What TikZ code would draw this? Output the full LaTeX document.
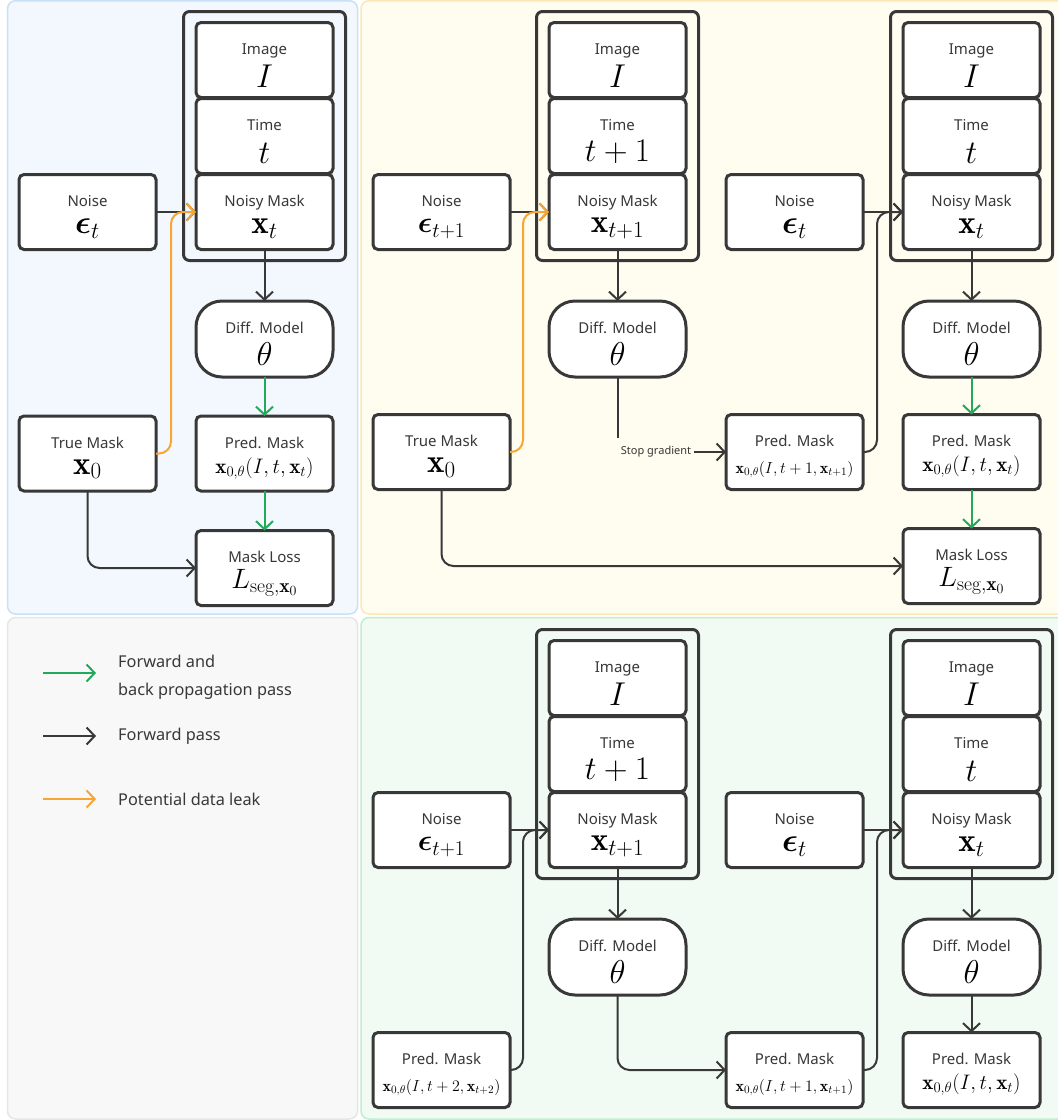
\RequirePackage{fix-cm}
\documentclass[tikz,border=0pt]{standalone}
\usepackage{amsmath}
\usepackage{fontspec}
\newfontfamily\labfont{Noto Sans}
\usetikzlibrary{arrows.meta}
\definecolor{ink}{HTML}{383838}
\definecolor{gr}{HTML}{22AA5B}
\definecolor{org}{HTML}{F8A532}
\definecolor{bluef}{HTML}{F3F8FE}
\definecolor{blueb}{HTML}{C8E1F7}
\definecolor{yelf}{HTML}{FFFCF0}
\definecolor{yelb}{HTML}{FBE8B6}
\definecolor{grayf}{HTML}{F8F8F8}
\definecolor{grayb}{HTML}{E6E6E6}
\definecolor{grnf}{HTML}{F1FBF4}
\definecolor{grnb}{HTML}{C0EFD0}
\newcommand\szbig{\fontsize{33}{36}\selectfont}
\newcommand\szeps{\fontsize{30}{33}\selectfont}
\newcommand\szmid{\fontsize{21}{24}\selectfont}
\newcommand\szsml{\fontsize{16}{18}\selectfont}
\newcommand\szloss{\fontsize{28}{32}\selectfont}
\newcommand\blk[6]{\node[#1,label={[lab,anchor=base,yshift=-32pt]north:{#4}},label={[anchor=base,inner sep=0pt,yshift=-#5pt]north:{#6}}] (#2) at (#3) {};}
\tikzset{
  panel/.style={line width=1.5pt, rounded corners=8pt},
  box/.style={draw=ink, line width=3pt, fill=white, rounded corners=5pt, minimum width=137pt, minimum height=75pt, inner sep=0pt, outer sep=0pt},
  dmbox/.style={box, rounded corners=26pt, minimum height=76pt},
  grp/.style={draw=ink, line width=3pt, rounded corners=6pt, minimum width=162pt, minimum height=249pt, inner sep=0pt, outer sep=0pt},
  ln/.style={draw=ink, line width=2pt, rounded corners=12pt},
  arr/.style={ln, -{Straight Barb[length=8pt,width=17pt]}},
  garr/.style={arr, draw=gr},
  oarr/.style={arr, draw=org},
  lab/.style={font=\labfont\fontsize{15}{18}\selectfont, text=ink, inner sep=0pt},
  legtxt/.style={font=\labfont\fontsize{16.3}{28}\selectfont, text=ink, inner sep=0pt, align=left, anchor=west},
}
\begin{document}
\begin{tikzpicture}[x=1pt,y=-1pt]
\useasboundingbox (0,0) rectangle (1058,1120);
\clip (0,0) rectangle (1058,1120);
% panels
\draw[panel, fill=bluef, draw=blueb] (7.5,0.75) rectangle (357.5,614);
\draw[panel, fill=yelf, draw=yelb] (361,0.75) rectangle (1070,614);
\draw[panel, fill=grayf, draw=grayb] (7.5,617.5) rectangle (357.5,1119);
\draw[panel, fill=grnf, draw=grnb] (361,617.5) rectangle (1070,1119);

% ---------- Panel 1 ----------
\node[grp] (g1) at (264.5,136) {};
\blk{box}{img1}{264.5,60}{Image}{65}{\szbig$I$}
\blk{box}{tim1}{264.5,136}{Time}{65}{\szbig$t$}
\blk{box}{nm1}{264.5,212}{Noisy Mask}{59}{\szbig$\mathbf{x}_t$}
\blk{box}{nz1}{87.5,212}{Noise}{59}{\szbig$\boldsymbol{\epsilon}_t$}
\blk{dmbox}{dm1}{264.5,339}{Diff. Model}{64}{\szbig$\theta$}
\blk{box}{tm1}{87.5,453.5}{True Mask}{58}{\szbig$\mathbf{x}_0$}
\blk{box}{pm1}{264.5,453.5}{Pred. Mask}{57}{\szmid$\mathbf{x}_{0,\theta}(I,t,\mathbf{x}_t)$}
\blk{box}{ml1}{264.5,568}{Mask Loss}{58}{\szloss$L_{\mathrm{seg},\mathbf{x}_0}$}

\draw[arr] (nz1.east) -- (nm1.west);
\draw[oarr] (tm1.east) -| ([xshift=-25pt]nm1.west) -- (nm1.west);
\draw[arr] (nm1.south) -- (dm1.north);
\draw[garr] (dm1.south) -- (pm1.north);
\draw[garr] (pm1.south) -- (ml1.north);
\draw[arr] (tm1.south) |- (ml1.west);

% ---------- Panel 2 ----------
\node[grp] (g2a) at (617.5,136) {};
\blk{box}{img2a}{617.5,60}{Image}{65}{\szbig$I$}
\blk{box}{tim2a}{617.5,136}{Time}{63}{\szbig$t+1$}
\blk{box}{nm2a}{617.5,212}{Noisy Mask}{58}{\szbig$\mathbf{x}_{t+1}$}
\blk{box}{nz2a}{441.5,212}{Noise}{58}{\szeps$\boldsymbol{\epsilon}_{t+1}$}
\blk{dmbox}{dm2a}{617.5,339}{Diff. Model}{64}{\szbig$\theta$}
\blk{box}{tm2}{441.5,452}{True Mask}{58}{\szbig$\mathbf{x}_0$}
\blk{box}{spm}{794.5,452}{Pred. Mask}{59}{\szsml$\mathbf{x}_{0,\theta}(I,t+1,\mathbf{x}_{t+1})$}
\blk{box}{nz2b}{794.5,212}{Noise}{59}{\szbig$\boldsymbol{\epsilon}_t$}
\node[grp] (g2b) at (971.5,136) {};
\blk{box}{img2b}{971.5,60}{Image}{65}{\szbig$I$}
\blk{box}{tim2b}{971.5,136}{Time}{65}{\szbig$t$}
\blk{box}{nm2b}{971.5,212}{Noisy Mask}{59}{\szbig$\mathbf{x}_t$}
\blk{dmbox}{dm2b}{971.5,339}{Diff. Model}{64}{\szbig$\theta$}
\blk{box}{pm2b}{971.5,452}{Pred. Mask}{57}{\szmid$\mathbf{x}_{0,\theta}(I,t,\mathbf{x}_t)$}
\blk{box}{ml2}{971.5,566}{Mask Loss}{58}{\szloss$L_{\mathrm{seg},\mathbf{x}_0}$}
\node[font=\labfont\fontsize{11}{13}\selectfont, text=ink, inner sep=3pt] (sg) at (656,452) {Stop gradient};
\coordinate (sgc) at (617.5,438);

\draw[arr] (nz2a.east) -- (nm2a.west);
\draw[oarr] (tm2.east) -| ([xshift=-26pt]nm2a.west) -- (nm2a.west);
\draw[arr] (nm2a.south) -- (dm2a.north);
\draw[ln] (dm2a.south) -- (sgc);
\draw[arr] (sg.east) -- (spm.west);
\draw[arr] (nz2b.east) -- (nm2b.west);
\draw[arr] (spm.east) -| ([xshift=-26pt]nm2b.west) -- (nm2b.west);
\draw[arr] (nm2b.south) -- (dm2b.north);
\draw[garr] (dm2b.south) -- (pm2b.north);
\draw[garr] (pm2b.south) -- (ml2.north);
\draw[arr] (tm2.south) |- (ml2.west);

% ---------- Panel 3 ----------
\node[grp] (g3a) at (617.5,754) {};
\blk{box}{img3a}{617.5,678}{Image}{65}{\szbig$I$}
\blk{box}{tim3a}{617.5,754}{Time}{63}{\szbig$t+1$}
\blk{box}{nm3a}{617.5,830}{Noisy Mask}{58}{\szbig$\mathbf{x}_{t+1}$}
\blk{box}{nz3a}{441.5,830}{Noise}{58}{\szeps$\boldsymbol{\epsilon}_{t+1}$}
\blk{dmbox}{dm3a}{617.5,957}{Diff. Model}{64}{\szbig$\theta$}
\blk{box}{pmL3}{441.5,1070}{Pred. Mask}{59}{\szsml$\mathbf{x}_{0,\theta}(I,t+2,\mathbf{x}_{t+2})$}
\blk{box}{pmM3}{794.5,1070}{Pred. Mask}{59}{\szsml$\mathbf{x}_{0,\theta}(I,t+1,\mathbf{x}_{t+1})$}
\blk{box}{nz3b}{794.5,830}{Noise}{59}{\szbig$\boldsymbol{\epsilon}_t$}
\node[grp] (g3b) at (971.5,754) {};
\blk{box}{img3b}{971.5,678}{Image}{65}{\szbig$I$}
\blk{box}{tim3b}{971.5,754}{Time}{65}{\szbig$t$}
\blk{box}{nm3b}{971.5,830}{Noisy Mask}{59}{\szbig$\mathbf{x}_t$}
\blk{dmbox}{dm3b}{971.5,957}{Diff. Model}{64}{\szbig$\theta$}
\blk{box}{pmR3}{971.5,1070}{Pred. Mask}{57}{\szmid$\mathbf{x}_{0,\theta}(I,t,\mathbf{x}_t)$}

\draw[arr] (nz3a.east) -- (nm3a.west);
\draw[arr] (pmL3.east) -| ([xshift=-26pt]nm3a.west) -- (nm3a.west);
\draw[arr] (nm3a.south) -- (dm3a.north);
\draw[arr] (dm3a.south) |- (pmM3.west);
\draw[arr] (nz3b.east) -- (nm3b.west);
\draw[arr] (pmM3.east) -| ([xshift=-26pt]nm3b.west) -- (nm3b.west);
\draw[arr] (nm3b.south) -- (dm3b.north);
\draw[arr] (dm3b.south) -- (pmR3.north);

% ---------- Legend ----------
\coordinate (lga) at (43,673); \coordinate (lgb) at (96,673);
\coordinate (lfa) at (43,736); \coordinate (lfb) at (96,736);
\coordinate (loa) at (43,799); \coordinate (lob) at (96,799);
\draw[garr] (lga) -- (lgb);
\draw[arr] (lfa) -- (lfb);
\draw[oarr] (loa) -- (lob);
\node[legtxt] (lt1) at (118,677) {Forward and\\back propagation pass};
\node[legtxt] (lt2) at (118,736) {Forward pass};
\node[legtxt] (lt3) at (118,799) {Potential data leak};
\end{tikzpicture}
\end{document}
